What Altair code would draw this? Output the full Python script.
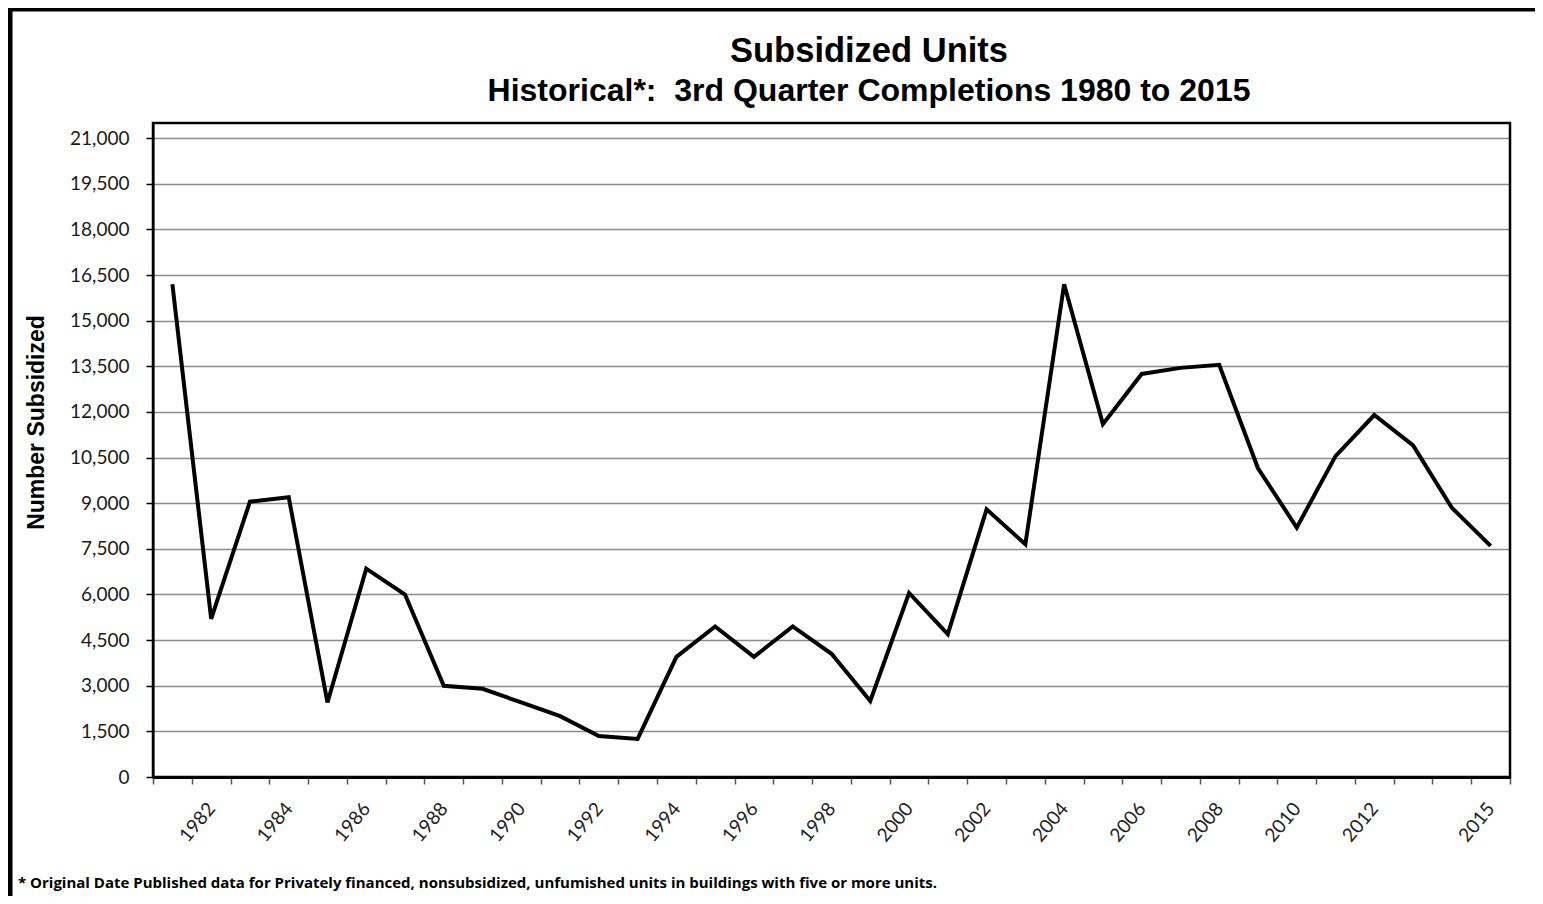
import altair as alt
import pandas as pd

years = list(range(1981, 2016))
units = [16200, 5200, 9050, 9200, 2450, 6850, 6000, 3000, 2900, 2450,
         2000, 1350, 1250, 3950, 4950, 3950, 4950, 4050, 2500, 6050,
         4700, 8800, 7650, 16200, 11600, 13250, 13450, 13550, 10150, 8200,
         10550, 11900, 10900, 8850, 7600]
label_years = ["1982", "1984", "1986", "1988", "1990", "1992", "1994", "1996",
               "1998", "2000", "2002", "2004", "2006", "2008", "2010", "2012", "2015"]
y_ticks = list(range(0, 21001, 1500))
title_lines = ["Subsidized Units", "Historical*:\u00a0 3rd Quarter Completions 1980 to 2015"]
footnote = ["*  Original Date Published data for Privately financed, nonsubsidized, unfumished units in buildings with five or more units."]

df = pd.DataFrame({"year": [str(y) for y in years], "units": units})

label_arr = "[" + ",".join("'" + s + "'" for s in label_years) + "]"

x_enc = alt.X(
    "year:O",
    scale=alt.Scale(type="band", paddingInner=0, paddingOuter=0),
    axis=alt.Axis(
        title=None,
        labelExpr=f"indexof({label_arr}, datum.label) >= 0 ? datum.label : ''",
        labelAngle=-50,
        labelAlign="right",
        labelBaseline="middle",
        labelPadding=21,
        labelFont="Lato",
        labelFontSize=19,
        labelColor="#222222",
        tickBand="extent",
        tickSize=7,
        tickColor="#555555",
        tickWidth=1.5,
        domainColor="black",
        domainWidth=3,
        grid=False,
        labelOverlap=False,
    ),
)

y_enc = alt.Y(
    "units:Q",
    scale=alt.Scale(domain=[0, 21500], nice=False),
    axis=alt.Axis(
        title="Number Subsidized",
        values=y_ticks,
        format=",.0f",
        labelFont="Lato",
        labelFontSize=19,
        labelColor="#1a1a1a",
        labelPadding=17,
        tickSize=7,
        tickColor="black",
        tickWidth=1.5,
        domainColor="black",
        domainWidth=2,
        grid=True,
        gridColor="#8c8c8c",
        gridWidth=1.5,
        titleFont="Liberation Sans",
        titleFontSize=23,
        titleFontWeight="bold",
        titleColor="black",
        titleAngle=270,
        titleAlign="center",
        titleBaseline="middle",
        titleX=-117,
        titleY=299,
    ),
)

line = alt.Chart(df).mark_line(color="black", strokeWidth=4).encode(x=x_enc, y=y_enc)

one = pd.DataFrame({"k": [0]})

frame = alt.Chart(one).mark_rect(
    fillOpacity=0, stroke="black", strokeWidth=5
).encode(
    x=alt.value(-143), x2=alt.value(1400), y=alt.value(-114), y2=alt.value(800)
)

plot_border = alt.Chart(one).mark_rect(
    fillOpacity=0, stroke="black", strokeWidth=2.5
).encode(
    x=alt.value(0), x2=alt.value(1357), y=alt.value(0), y2=alt.value(654)
)

title1 = alt.Chart(pd.DataFrame({"t": [title_lines[0]]})).mark_text(
    align="center", baseline="alphabetic", font="Liberation Sans", fontSize=34.5,
    fontWeight="bold", color="black"
).encode(x=alt.value(716), y=alt.value(-61), text="t:N")

title2 = alt.Chart(pd.DataFrame({"t": [title_lines[1]]})).mark_text(
    align="center", baseline="alphabetic", font="Liberation Sans", fontSize=32,
    fontWeight="bold", color="black"
).encode(x=alt.value(716), y=alt.value(-22), text="t:N")

note = alt.Chart(pd.DataFrame({"t": footnote})).mark_text(
    align="left", baseline="alphabetic", font="Open Sans", fontSize=15,
    fontWeight="bold", color="black"
).encode(x=alt.value(-135), y=alt.value(765), text="t:N")

chart = alt.layer(frame, plot_border, line, title1, title2, note).properties(
    width=1357,
    height=654,
    autosize=alt.AutoSizeParams(type="none"),
    padding={"left": 145, "top": 115, "right": 25, "bottom": 119},
).configure_view(stroke="black", strokeWidth=2.5).configure(background="white")

chart.save("out.html", embed_options={"renderer": "svg", "actions": False})
